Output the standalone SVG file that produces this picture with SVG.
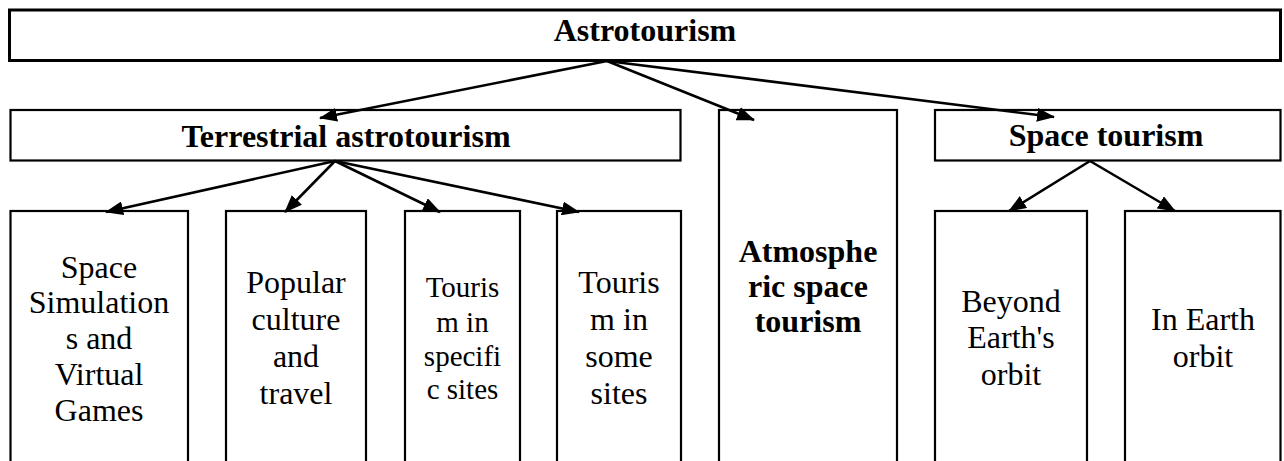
<svg xmlns="http://www.w3.org/2000/svg" width="1284" height="461" viewBox="0 0 1284 461">
<defs>
<style>
text{font-family:'Liberation Serif','Times New Roman','DejaVu Serif',serif}
.box{fill:#fff;stroke:#000;stroke-width:2.2}
.top{stroke-width:3}
.b{font-weight:bold;font-size:32px;text-anchor:middle;fill:#000}
.r{font-size:32px;text-anchor:middle;fill:#000}
.s{font-size:29px}
.c{stroke:#000;stroke-width:2.6;fill:none}
</style>
<marker id="ah" viewBox="0 0 18 14" refX="17" refY="7" markerWidth="18" markerHeight="14" markerUnits="userSpaceOnUse" orient="auto">
<path d="M0,0 L18,7 L0,14 z" fill="#000"/>
</marker>
</defs>
<rect width="1284" height="461" fill="#fff"/>

<g id="astrotourism">
<rect class="box top" x="9.5" y="10" width="1271" height="50.5"/>
<text class="b" x="645" y="41" font-family="Liberation Serif, serif">Astrotourism</text>
</g>

<g id="terrestrial">
<rect class="box" x="10.5" y="110" width="670" height="50.5"/>
<text class="b" x="346" y="147" font-family="Liberation Serif, serif">Terrestrial astrotourism</text>
</g>

<g id="atmospheric">
<rect class="box" x="719" y="110" width="178" height="370"/>
<text class="b" x="808" font-family="Liberation Serif, serif"><tspan x="808" y="262">Atmosphe</tspan><tspan x="808" y="297">ric space</tspan><tspan x="808" y="332">tourism</tspan></text>
</g>

<g id="space-tourism">
<rect class="box" x="935" y="110" width="345.5" height="50.5"/>
<text class="b" x="1106" y="146" font-family="Liberation Serif, serif">Space tourism</text>
</g>

<g id="simulations">
<rect class="box" x="10.5" y="211" width="177.5" height="270"/>
<text class="r" font-family="Liberation Serif, serif"><tspan x="99" y="277.5">Space</tspan><tspan x="99" y="313.3">Simulation</tspan><tspan x="99" y="349.2">s and</tspan><tspan x="99" y="385">Virtual</tspan><tspan x="99" y="420.5">Games</tspan></text>
</g>

<g id="popular">
<rect class="box" x="226" y="211" width="140" height="270"/>
<text class="r" font-family="Liberation Serif, serif"><tspan x="296" y="293.3">Popular</tspan><tspan x="296" y="330">culture</tspan><tspan x="296" y="366.7">and</tspan><tspan x="296" y="403.5">travel</tspan></text>
</g>

<g id="specific-sites">
<rect class="box" x="405" y="211" width="115" height="270"/>
<text class="r s" font-family="Liberation Serif, serif"><tspan x="462.5" y="297">Touris</tspan><tspan x="462.5" y="331.5">m in</tspan><tspan x="462.5" y="366">specifi</tspan><tspan x="462.5" y="399">c sites</tspan></text>
</g>

<g id="some-sites">
<rect class="box" x="557" y="211" width="124" height="270"/>
<text class="r" font-family="Liberation Serif, serif"><tspan x="619" y="293.3">Touris</tspan><tspan x="619" y="330">m in</tspan><tspan x="619" y="366.7">some</tspan><tspan x="619" y="403.5">sites</tspan></text>
</g>

<g id="beyond-orbit">
<rect class="box" x="935" y="211" width="152" height="270"/>
<text class="r" font-family="Liberation Serif, serif"><tspan x="1011" y="311.7">Beyond</tspan><tspan x="1011" y="348.3">Earth's</tspan><tspan x="1011" y="385">orbit</tspan></text>
</g>

<g id="earth-orbit">
<rect class="box" x="1125" y="211" width="155.5" height="270"/>
<text class="r" font-family="Liberation Serif, serif"><tspan x="1203" y="330">In Earth</tspan><tspan x="1203" y="366.7">orbit</tspan></text>
</g>

<g id="connectors">
<line class="c" x1="607" y1="61" x2="320" y2="118" marker-end="url(#ah)"/>
<line class="c" x1="607" y1="61" x2="754" y2="120" marker-end="url(#ah)"/>
<line class="c" x1="607" y1="61" x2="1054" y2="117" marker-end="url(#ah)"/>
<line class="c" x1="335" y1="161" x2="106" y2="212" marker-end="url(#ah)"/>
<line class="c" x1="335" y1="161" x2="285" y2="212" marker-end="url(#ah)"/>
<line class="c" x1="335" y1="161" x2="440" y2="212" marker-end="url(#ah)"/>
<line class="c" x1="335" y1="161" x2="579" y2="212" marker-end="url(#ah)"/>
<line class="c" x1="1090" y1="161" x2="1009" y2="211" marker-end="url(#ah)"/>
<line class="c" x1="1090" y1="161" x2="1175" y2="211" marker-end="url(#ah)"/>
</g>
</svg>
